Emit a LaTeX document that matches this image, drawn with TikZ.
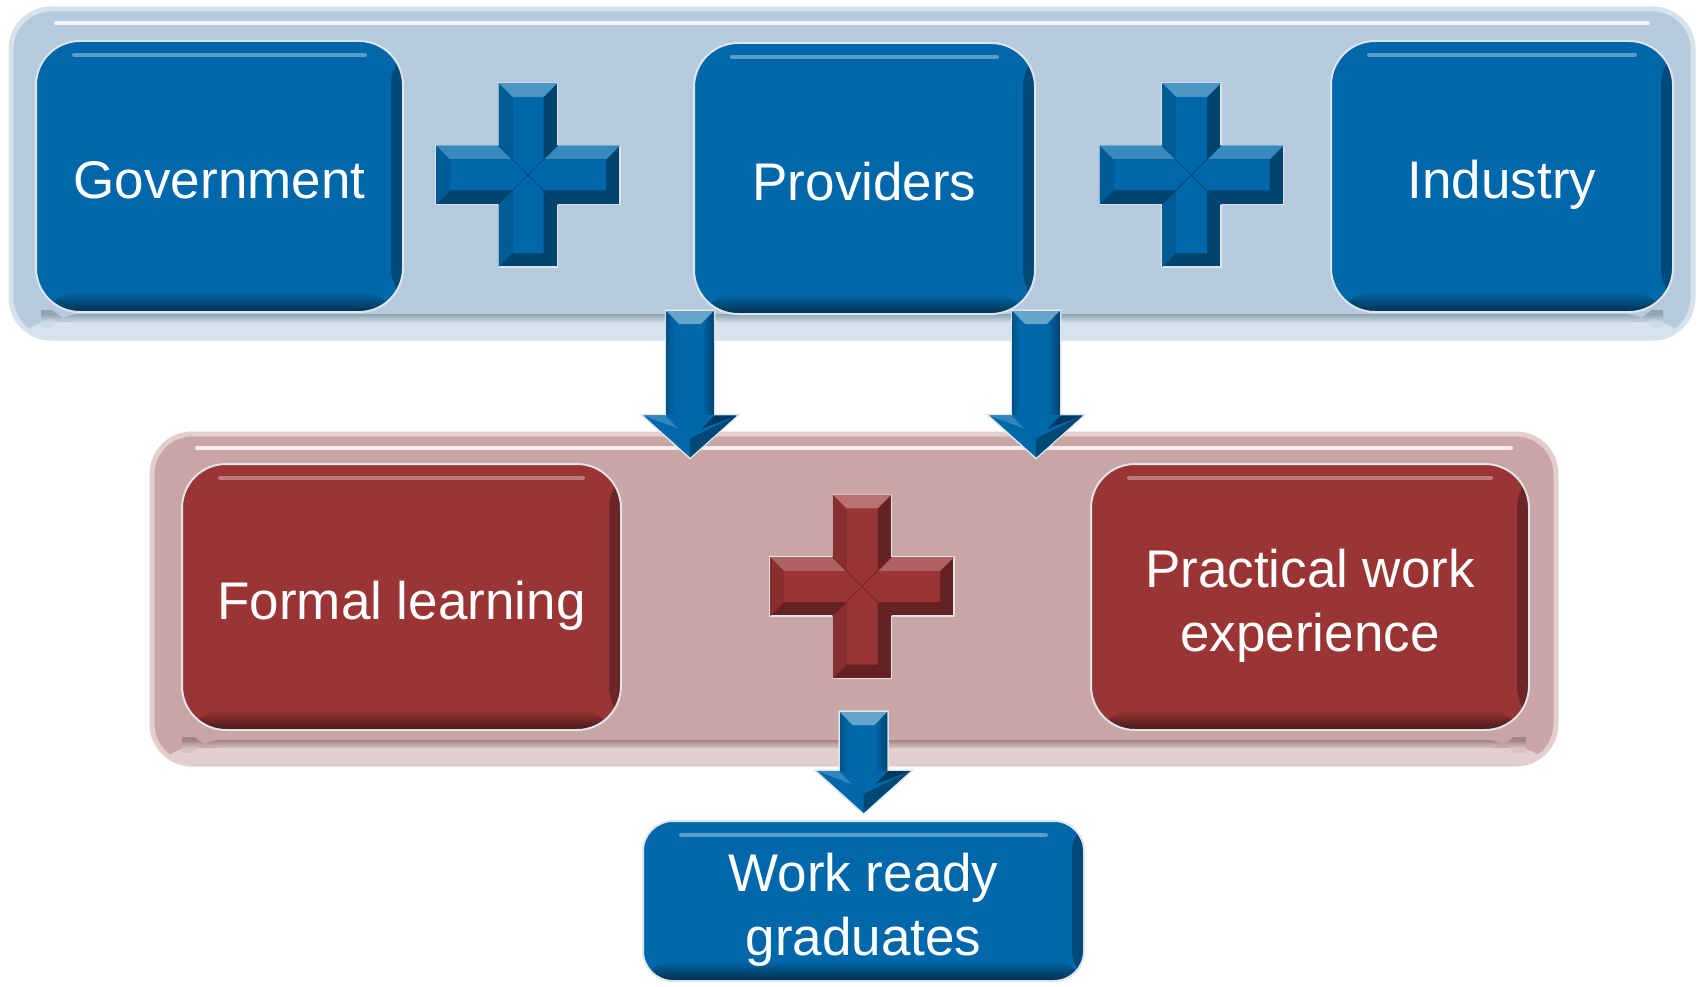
\documentclass[tikz,border=0pt]{standalone}
\usepackage{fontspec}
\setmainfont{Liberation Sans}
\usetikzlibrary{calc}

\definecolor{boxblue}{HTML}{0068AA}
\definecolor{bandblue}{HTML}{B5CADD}
\definecolor{boxred}{HTML}{9B3434}
\definecolor{bandred}{HTML}{C9A6A5}
\definecolor{rimgray}{HTML}{DDE4EA}

\tikzset{
  band/.style={rounded corners=40pt, fill=#1, draw=#1!55!white, line width=5pt, inner sep=0pt,
    path picture={
      \fill[#1!55!white]
        ([yshift=16pt]path picture bounding box.south west) rectangle (path picture bounding box.south east);
      \shade[top color=#1!80!black, bottom color=#1!70!white]
        ([xshift=30pt,yshift=24pt]path picture bounding box.south west) rectangle ([xshift=-30pt,yshift=16pt]path picture bounding box.south east);
      \draw[white, opacity=.8, line width=4pt, line cap=round]
        ([xshift=45pt,yshift=-14pt]path picture bounding box.north west) -- ([xshift=-45pt,yshift=-14pt]path picture bounding box.north east);
    }},
  box/.style={rounded corners=44pt, fill=#1, draw=rimgray, line width=2pt, inner sep=0pt,
    text=white, font=\fontsize{53}{64}\selectfont, align=center,
    path picture={
      \shade[left color=#1, right color=#1!70!black]
        ([xshift=-12pt]path picture bounding box.north east) rectangle (path picture bounding box.south east);
      \shade[top color=#1, bottom color=#1!45!black]
        ([yshift=20pt]path picture bounding box.south west) rectangle (path picture bounding box.south east);
      \draw[white, opacity=.35, line width=4pt, line cap=round]
        ([xshift=38pt,yshift=-14pt]path picture bounding box.north west) -- ([xshift=-38pt,yshift=-14pt]path picture bounding box.north east);
    }},
  oneline/.style={text height=44pt, text depth=0pt},
}

\begin{document}
\begin{tikzpicture}[x=1pt, y=-1pt]
    \fill[white] (0,0) rectangle (1700,987);
    \useasboundingbox (0,0) rectangle (1700,987);

    % Bands
    \node[band=bandblue, minimum width=1682pt, minimum height=329pt] (upper) at (852,173.5) {};
    \node[band=bandred, minimum width=1404pt, minimum height=330pt] (lower) at (854,599) {};

    % Boxes
    \node[box=boxblue, oneline, minimum width=367pt, minimum height=271pt] (gov) at (219.5,176.5) {Government};
    \node[box=boxblue, oneline, minimum width=341pt, minimum height=271pt] (prov) at (864.5,178.5) {Providers};
    \node[box=boxblue, oneline, minimum width=342pt, minimum height=271pt] (ind) at (1502,176.5) {Industry};
    \node[box=boxred, oneline, minimum width=439pt, minimum height=266pt] (formal) at (401.5,597) {Formal learning};
    \node[box=boxred, minimum width=438pt, minimum height=266pt] (pract) at (1310,597)
        {\raisebox{-10pt}[\height][\depth]{\begin{tabular}{@{}c@{}}Practical work\\experience\end{tabular}}};
    \node[box=boxblue, rounded corners=30pt, minimum width=441pt, minimum height=160pt] (work) at (863.5,901)
        {\raisebox{-10pt}[\height][\depth]{\begin{tabular}{@{}c@{}}Work ready\\graduates\end{tabular}}};

    % Arrow ends
    \coordinate (a1s) at ($(prov.south west)+(-3,-5)$);
    \coordinate (a1t) at ($(prov.south west |- lower.north)+(-3,27)$);
    \coordinate (a2s) at ($(prov.south east)+(0,-5)$);
    \coordinate (a2t) at ($(prov.south east |- lower.north)+(0,27)$);
    \coordinate (a3s) at ($(work.north)+(0,-109)$);
    \coordinate (a3t) at ($(work.north)+(0,-6)$);

    % Block arrows
    \foreach \s/\t in {a1s/a1t, a2s/a2t, a3s/a3t} {
        \filldraw[fill=boxblue, draw=rimgray, line width=1.5pt, line join=miter]
            ($(\s)+(-24.5,0)$) -- ($(\s)+(24.5,0)$) -- ($(\t)+(24.5,-44)$) -- ($(\t)+(49,-44)$)
            -- (\t) -- ($(\t)+(-49,-44)$) -- ($(\t)+(-24.5,-44)$) -- cycle;
        \shade[left color=boxblue, right color=boxblue!65!black]
            ($(\s)+(12,1)$) rectangle ($(\t)+(23.5,-44)$);
        \shade[right color=boxblue, left color=boxblue!80!black]
            ($(\s)+(-23.5,1)$) rectangle ($(\t)+(-16,-44)$);
        \fill[boxblue!60!white] ($(\s)+(-23.5,1)$) -- ($(\s)+(23.5,1)$) -- ($(\s)+(11,14)$) -- ($(\s)+(-11,14)$) -- cycle;
        \fill[boxblue!80!white] ($(\t)+(-47,-43)$) -- ($(\t)+(-24.5,-43)$) -- ($(\t)+(-12,-30)$) -- cycle;
        \fill[boxblue!55!black] ($(\t)+(47,-43)$) -- ($(\t)+(24.5,-43)$) -- ($(\t)+(12,-30)$) -- cycle;
        \fill[boxblue!70!black] ($(\t)+(0,-20)$) -- ($(\t)+(47,-43)$) -- ($(\t)+(0,-1)$) -- cycle;
    }

    % Plus signs
    \foreach \cx/\cy/\col in {528/175/boxblue, 1191.5/175/boxblue, 862/586.5/boxred} {
        \begin{scope}[shift={(\cx,\cy)}]
            % outer cross, dark faces
            \filldraw[fill=\col!65!black, draw=rimgray, line width=1.5pt]
                (-29.5,-92) -- (29.5,-92) -- (29.5,-29.5) -- (92,-29.5) -- (92,29.5) -- (29.5,29.5)
                -- (29.5,92) -- (-29.5,92) -- (-29.5,29.5) -- (-92,29.5) -- (-92,-29.5) -- (-29.5,-29.5) -- cycle;
            % left facing bevels
            \fill[\col!88!black] (-92,-29.5) -- (-78,-15.5) -- (-78,15.5) -- (-92,29.5) -- cycle;
            \fill[\col!88!black] (-29.5,-92) -- (-15.5,-78) -- (-15.5,-15.5) -- (-29.5,-29.5) -- cycle;
            \fill[\col!88!black] (-29.5,29.5) -- (-15.5,15.5) -- (-15.5,78) -- (-29.5,92) -- cycle;
            % top facing bevels
            \fill[\col!70!white] (-29.5,-92) -- (29.5,-92) -- (15.5,-78) -- (-15.5,-78) -- cycle;
            \fill[\col!78!white] (-92,-29.5) -- (-29.5,-29.5) -- (-15.5,-15.5) -- (-78,-15.5) -- cycle;
            \fill[\col!78!white] (29.5,-29.5) -- (92,-29.5) -- (78,-15.5) -- (15.5,-15.5) -- cycle;
            % flat face
            \fill[\col] (-15.5,-78) -- (15.5,-78) -- (15.5,-15.5) -- (78,-15.5) -- (78,15.5) -- (15.5,15.5)
                -- (15.5,78) -- (-15.5,78) -- (-15.5,15.5) -- (-78,15.5) -- (-78,-15.5) -- (-15.5,-15.5) -- cycle;
            % ridges to the centre
            \draw[\col!75!black, line width=1pt] (-29.5,-29.5) -- (29.5,29.5) (29.5,-29.5) -- (-29.5,29.5);
        \end{scope}
    }
\end{tikzpicture}
\end{document}
